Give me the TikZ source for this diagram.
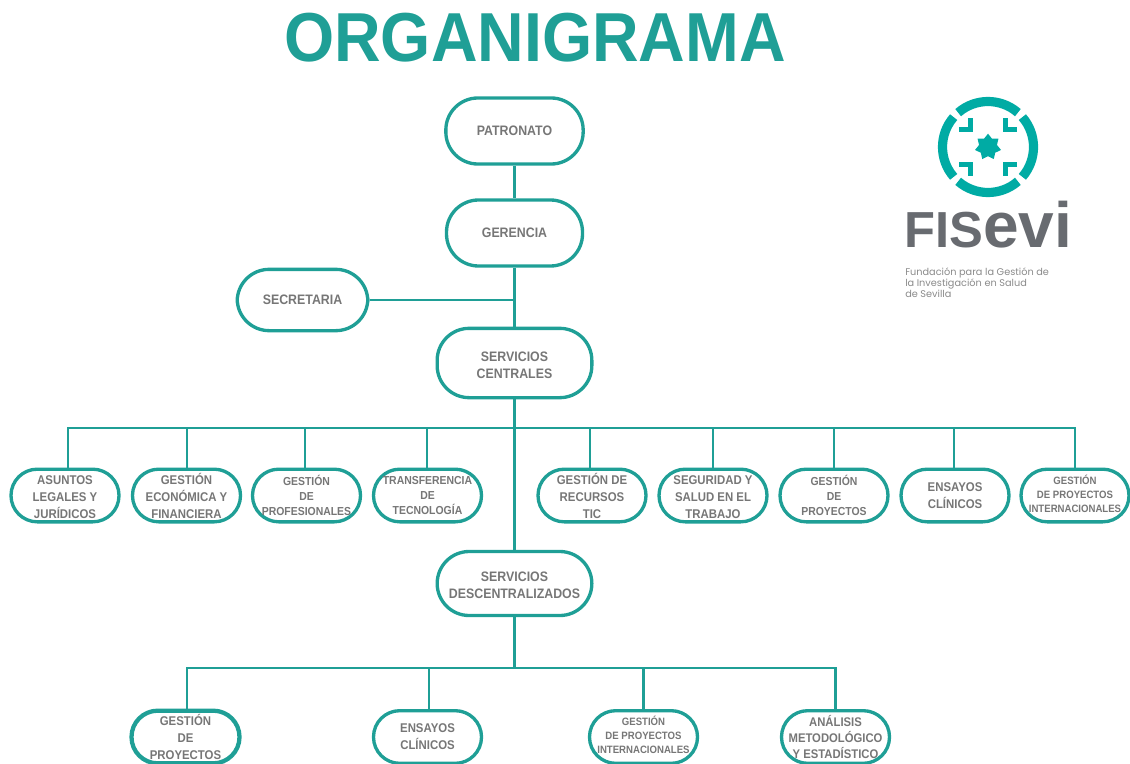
\documentclass[tikz,border=0pt]{standalone}
\usepackage{fontspec}
\usetikzlibrary{calc,positioning,shapes.geometric}
\newfontfamily\orgfont[FakeStretch=0.9]{Liberation Sans}
\newfontfamily\titlefont[FakeStretch=0.93]{Liberation Sans}
\newfontfamily\namefont{Liberation Sans}
\newfontfamily\logofont{Poppins}
\definecolor{orgTeal}{HTML}{1F9F96}
\definecolor{orgText}{HTML}{767676}
\definecolor{logoTeal}{HTML}{00ABA4}
\definecolor{logoGray}{HTML}{686B70}
\newcommand{\lowtext}[1]{\rule{0pt}{#1pt}}
\newcommand{\hightext}[1]{\rule[-#1pt]{0pt}{0pt}}
\tikzset{
	orgbox/.style={draw=orgTeal, line width=2.5pt, rounded corners=19.7pt, inner sep=0, align=center,
		text=orgText, font=\orgfont\bfseries\fontsize{9.5}{12.75}\selectfont},
	orgtop/.style={orgbox, rounded corners=24pt, font=\orgfont\bfseries\fontsize{10.3}{12.75}\selectfont},
	orgrow/.style={orgbox, minimum width=81pt, minimum height=39.5pt},
	orgsmall/.style={orgrow, font=\orgfont\bfseries\fontsize{8.7}{11.1}\selectfont},
	orgtiny/.style={orgrow, font=\orgfont\bfseries\fontsize{8.0}{10.5}\selectfont},
	orgline/.style={draw=orgTeal, line width=1.7pt},
	logoring/.style={draw=logoTeal, line width=6.9pt},
	logomark/.style={draw=logoTeal, line width=3.8pt}
}

\begin{document}
\begin{tikzpicture}[x=0.75pt,y=-0.75pt]
	\useasboundingbox (0,0) rectangle (1130,763);
	% title
	\node[text=orgTeal, font=\titlefont\bfseries\fontsize{52}{52}\selectfont] (title) at (535,38) {ORGANIGRAMA};

	% central column
	\node[orgtop, minimum width=103pt, minimum height=49.5pt] (patronato) at (514.5,131) {PATRONATO};
	\node[orgtop, minimum width=102pt, minimum height=49.5pt] (gerencia) at (514.5,233) {GERENCIA};
	\node[orgtop, minimum width=98pt, minimum height=46pt] (secretaria) at (302.5,300) {SECRETARIA};
	\node[orgtop, minimum width=116pt, minimum height=52pt] (centrales) at (514.5,363) {\lowtext{11}SERVICIOS\\CENTRALES};
	\node[orgtop, minimum width=116pt, minimum height=48pt] (descentral) at (514.5,583.5) {\lowtext{10}SERVICIOS\\DESCENTRALIZADOS};

	% first row
	\node[orgrow] (asuntos) at (65,495.5) {\lowtext{9}ASUNTOS\\LEGALES Y\\JURÍDICOS};
	\node[orgrow] (economica) at (186.5,495.5) {GESTIÓN\\ECONÓMICA Y\\FINANCIERA};
	\node[orgsmall] (profesionales) at (306.5,495.5) {GESTIÓN\\DE\\PROFESIONALES};
	\node[orgsmall] (transferencia) at (427.5,495.5) {TRANSFERENCIA\\DE\\TECNOLOGÍA};
	\node[orgrow] (recursos) at (592,495.5) {GESTIÓN DE\\RECURSOS\\TIC};
	\node[orgrow] (seguridad) at (713,495.5) {\lowtext{9.5}SEGURIDAD Y\\SALUD EN EL\\TRABAJO};
	\node[orgsmall] (proyectos) at (834,495.5) {GESTIÓN\\DE\\PROYECTOS};
	\node[orgrow] (ensayos) at (955,495.5) {ENSAYOS\\CLÍNICOS};
	\node[orgtiny] (internac) at (1075,495.5) {GESTIÓN\\DE PROYECTOS\\INTERNACIONALES\hightext{3}};

	% second row
	\node[orgrow, line width=3.2pt] (proyectosb) at (185.5,737) {GESTIÓN\\DE\\PROYECTOS};
	\node[orgrow] (ensayosb) at (427.5,737) {ENSAYOS\\CLÍNICOS};
	\node[orgtiny] (internacb) at (643.5,737) {GESTIÓN\\DE PROYECTOS\\INTERNACIONALES\hightext{3.5}};
	\node[orgrow, font=\orgfont\bfseries\fontsize{9.4}{12}\selectfont] (analisis) at (835.5,737) {ANÁLISIS\\METODOLÓGICO\\Y ESTADÍSTICO};

	\coordinate (busa) at (514.5,428);
	\coordinate (busb) at (514.5,668);

	\draw[orgline] (patronato.south) -- (gerencia.north);
	\draw[orgline] (gerencia.south) -- (centrales.north);
	\draw[orgline] (secretaria.east) -- (secretaria.east -| gerencia.south);
	\draw[orgline] (centrales.south) -- (descentral.north);
	\draw[orgline] (descentral.south) -- (busb);

	\draw[orgline] (busa) -| ([xshift=2.25pt]asuntos.north);
	\draw[orgline] (busa) -| ([xshift=0.4pt]economica.north);
	\draw[orgline] (busa) -| ([xshift=-1.1pt]profesionales.north);
	\draw[orgline] (busa) -| ([xshift=-0.4pt]transferencia.north);
	\draw[orgline] (busa) -| ([xshift=-1.5pt]recursos.north);
	\draw[orgline] (busa) -| (seguridad.north);
	\draw[orgline] (busa) -| (proyectos.north);
	\draw[orgline] (busa) -| ([xshift=-0.75pt]ensayos.north);
	\draw[orgline] (busa) -| (internac.north);

	\draw[orgline] (busb) -| ([xshift=1.1pt]proyectosb.north);
	\draw[orgline] (busb) -| ([xshift=1.1pt]ensayosb.north);
	\draw[orgline] (busb) -| (internacb.north);
	\draw[orgline] (busb) -| (analisis.north);

	% logo
	\foreach \a in {0,90,180,270}
		\draw[logoring] (988,147) ++(\a+49:45.5) arc (\a+49:\a+131:45.5);
	\foreach \sx in {-1,1}
		\foreach \sy in {-1,1}
			\draw[logomark] (988+29*\sx,147+17.5*\sy) -- (988+17.5*\sx,147+17.5*\sy) -- (988+17.5*\sx,147+29*\sy);
	\node[star, star points=7, star point ratio=1.45, fill=logoTeal, inner sep=0, minimum size=20pt] (logostar) at (988,147) {};
	\node[anchor=base west, inner sep=0, text=logoGray, font=\namefont\bfseries] (logoname) at (904,247)
		{\fontsize{38}{38}\selectfont FIS\fontsize{48}{48}\selectfont evi};
	\node[anchor=north west, inner sep=0, align=left, text=orgText!85, font=\logofont\fontsize{7.3}{8}\selectfont] (logotext) at (905,268)
		{Fundación para la Gestión de\\la Investigación en Salud\\de Sevilla};
\end{tikzpicture}
\end{document}
